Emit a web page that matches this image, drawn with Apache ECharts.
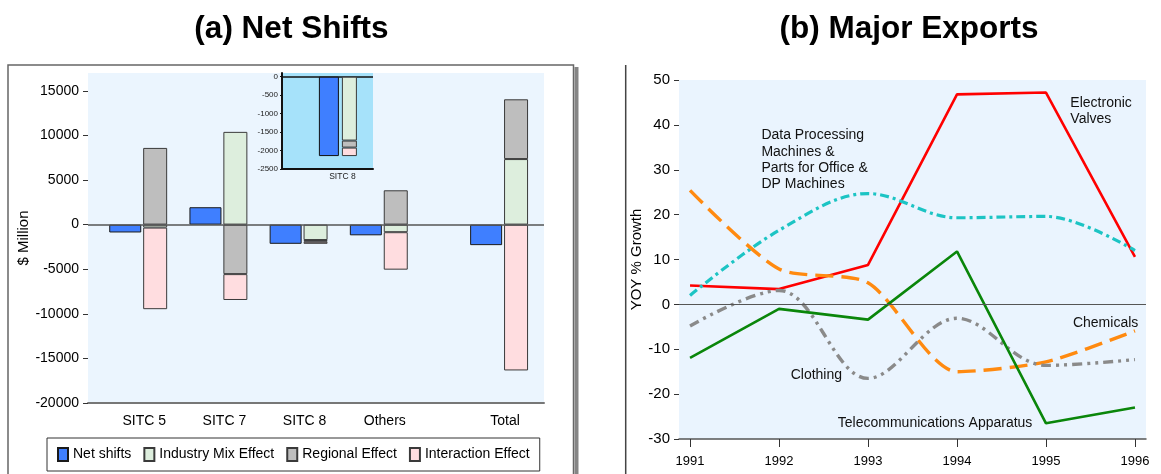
<!DOCTYPE html>
<html>
<head>
<meta charset="utf-8">
<script src="https://cdn.jsdelivr.net/npm/echarts@6/dist/echarts.min.js"></script>
<style>
  html, body { margin: 0; padding: 0; background: #fff; }
  #chart { width: 1161px; height: 474px; }
</style>
</head>
<body>
<div id="chart"></div>
<script>
// (a) Net shifts by commodity group, $ million
const categories = ['SITC 5', 'SITC 7', 'SITC 8', 'Others', 'Total'];
const netShifts = [-880, 1950, -2150, -1200, -2300];
const industryMix = [-330, 10400, -1730, -850, 7350];
const regional = [8600, -5550, -190, 3850, 6700];
const interaction = [-9150, -2900, -230, -4200, -16350];
const netTicks = [-20000, -15000, -10000, -5000, 0, 5000, 10000, 15000];

// close-up of one group
const insetCategory = 'SITC 8';
const insetTicks = [-2500, -2000, -1500, -1000, -500, 0];

// (b) Major exports, year-on-year % growth
const years = [1991, 1992, 1993, 1994, 1995, 1996];
const electronicValves = [4.2, 3.4, 8.8, 46.8, 47.2, 10.6];
const dataProcessing = [2.0, 16.5, 24.7, 19.3, 19.6, 12.0];
const chemicals = [25.4, 7.9, 4.8, -15.0, -12.8, -5.9];
const clothing = [-4.8, 3.1, -16.5, -3.1, -13.6, -12.3];
const telecom = [-11.9, -1.0, -3.4, 11.8, -26.5, -23.0];
const growthTicks = [-30, -20, -10, 0, 10, 20, 30, 40, 50];

const FONT = '"Liberation Sans", Arial, Helvetica, sans-serif';

// The bar axis uses half-slots: one empty slot between groups and
// two before the last group ("Total"), which stands further apart.
const lastIdx = categories.length - 1;
const bandOf = i => 2 * i + (i === lastIdx ? 1 : 0);
const bandCount = bandOf(lastIdx) + 1;
const axisBands = Array.from({ length: bandCount }, (_, k) => '#' + k);
categories.forEach((c, i) => { axisBands[bandOf(i)] = c; });
const spread = arr => {
  const out = Array(bandCount).fill('-');
  arr.forEach((v, i) => { out[bandOf(i)] = v; });
  return out;
};

const ii = categories.indexOf(insetCategory);
const pick = arr => [arr[ii]];

const yearPairs = arr => arr.map((v, i) => [years[i], v]);
const plain = v => String(v);

const zeroLine = (color, width) => ({
  silent: true,
  symbol: 'none',
  label: { show: false },
  lineStyle: { color: color, width: width, type: 'solid' },
  data: [{ yAxis: 0 }]
});

const note = (coord, text, align, vAlign, lineHeight) => ({
  coord: coord,
  symbol: 'circle',
  symbolSize: 0,
  label: {
    show: true,
    formatter: text,
    position: [0, 0],
    align: align,
    verticalAlign: vAlign,
    color: '#111',
    fontSize: 14,
    lineHeight: lineHeight || 16.3,
    fontFamily: FONT
  }
});

const effectBar = (name, data, color, xi, yi, stack, width, gap, z) => ({
  name: name,
  type: 'bar',
  xAxisIndex: xi,
  yAxisIndex: yi,
  stack: stack,
  barWidth: width,
  barGap: gap,
  clip: false,
  z: z,
  data: data,
  itemStyle: { color: color, borderColor: '#3a3a3a', borderWidth: 1 }
});

const hiddenY = (grid, min, max) => ({
  gridIndex: grid, type: 'value', min: min, max: max, show: false,
  axisLine: { onZero: false }, splitLine: { show: false }
});

const chart = echarts.init(document.getElementById('chart'), null, { renderer: 'canvas' });

chart.setOption({
  animation: false,
  textStyle: { fontFamily: FONT },
  title: [
    { text: '(a) Net Shifts', left: 291.5, top: 13, textAlign: 'center', padding: 0,
      textStyle: { fontSize: 31.5, fontWeight: 'bold', color: '#000', fontFamily: FONT } },
    { text: '(b) Major Exports', left: 909, top: 13, textAlign: 'center', padding: 0,
      textStyle: { fontSize: 31.5, fontWeight: 'bold', color: '#000', fontFamily: FONT } }
  ],
  legend: {
    data: ['Net shifts', 'Industry Mix Effect', 'Regional Effect', 'Interaction Effect'],
    left: 47,
    top: 438,
    padding: [9, 10, 9, 10],
    icon: 'rect',
    itemWidth: 10,
    itemHeight: 13,
    itemGap: 12,
    borderColor: '#333',
    borderWidth: 1,
    selectedMode: false,
    textStyle: { fontSize: 14, color: '#000', fontFamily: FONT }
  },
  graphic: [
    { type: 'rect', z: -1, shape: { x: 574.5, y: 67, width: 4, height: 420 }, style: { fill: '#858585' } },
    { type: 'rect', z: 0, shape: { x: 8, y: 65, width: 565.5, height: 420 },
      style: { fill: 'none', stroke: '#666', lineWidth: 1.5 } },
    { type: 'line', z: 0, shape: { x1: 625.7, y1: 65, x2: 625.7, y2: 480 },
      style: { stroke: '#444', lineWidth: 1.5 } }
  ],
  grid: [
    // 0: main plot frame (background, value scale, axes)
    { left: 88, top: 73, width: 456, height: 330, show: true, backgroundColor: '#ebf5fe', borderWidth: 0 },
    // 1: main bar layer
    { left: 118.15, top: 73, width: 401, height: 330, show: false },
    // 2: close-up frame
    { left: 282, top: 73, width: 91, height: 96, show: true, backgroundColor: '#a6e2fa', borderWidth: 0, z: 5 },
    // 3: close-up bar layer
    { left: 300.4, top: 73, width: 75, height: 96, show: false, z: 5 },
    // 4: growth lines
    { left: 679, top: 80, width: 467, height: 359, show: true, backgroundColor: '#eaf4fe', borderWidth: 0 }
  ],
  xAxis: [
    {
      gridIndex: 0, type: 'value', min: 0, max: 1,
      axisLine: { show: true, onZero: false, lineStyle: { color: '#777', width: 2 } },
      axisTick: { show: false }, axisLabel: { show: false }, splitLine: { show: false }
    },
    {
      gridIndex: 1, type: 'category', data: axisBands,
      axisLine: { show: false, onZero: false },
      axisTick: { show: false },
      splitLine: { show: false },
      axisLabel: {
        interval: 0,
        formatter: v => (v.charAt(0) === '#' ? '' : v),
        fontSize: 14, color: '#000', margin: 11, padding: [0, 0, 0, 12]
      }
    },
    {
      gridIndex: 2, type: 'value', min: 0, max: 1, z: 5,
      axisLine: { show: true, onZero: false, lineStyle: { color: '#111', width: 2 } },
      axisTick: { show: false }, axisLabel: { show: false }, splitLine: { show: false }
    },
    {
      gridIndex: 3, type: 'category', data: [insetCategory], z: 5,
      axisLine: { show: false, onZero: false },
      axisTick: { show: false },
      splitLine: { show: false },
      axisLabel: { fontSize: 8.5, color: '#222', margin: 3, padding: [0, 0, 0, 9] }
    },
    {
      gridIndex: 4, type: 'value', min: 1990.876, max: 1996.124,
      axisLine: { show: true, onZero: false, lineStyle: { color: '#555', width: 1.5 } },
      axisTick: { show: true, customValues: years, length: 8, lineStyle: { color: '#333', width: 1 } },
      splitLine: { show: false },
      axisLabel: { customValues: years, formatter: plain, fontSize: 13, color: '#000', margin: 16 }
    }
  ],
  yAxis: [
    {
      gridIndex: 0, type: 'value', min: -20000, max: 17000,
      axisLine: { show: false, onZero: false },
      axisTick: { show: true, customValues: netTicks, length: 5, lineStyle: { color: '#333' } },
      splitLine: { show: false },
      axisLabel: { customValues: netTicks, formatter: plain, fontSize: 14, color: '#000', margin: 9 },
      name: '$ Million', nameLocation: 'middle', nameGap: 46,
      nameTextStyle: { fontSize: 15, color: '#000' }
    },
    hiddenY(1, -20000, 17000),
    {
      gridIndex: 2, type: 'value', min: -2500, max: 100, z: 5,
      axisLine: { show: true, onZero: false, lineStyle: { color: '#111', width: 2 } },
      axisTick: { show: true, customValues: insetTicks, length: 2, lineStyle: { color: '#111' } },
      splitLine: { show: false },
      axisLabel: { customValues: insetTicks, formatter: plain, fontSize: 8, color: '#222', margin: 4 }
    },
    hiddenY(3, -2500, 100),
    {
      gridIndex: 4, type: 'value', min: -30, max: 50, interval: 10,
      axisLine: { show: false, onZero: false },
      axisTick: { show: true, length: 5, lineStyle: { color: '#333' } },
      splitLine: { show: false },
      axisLabel: { fontSize: 15, color: '#000', margin: 9 },
      name: 'YOY % Growth', nameLocation: 'middle', nameGap: 29,
      nameTextStyle: { fontSize: 15, color: '#000' }
    }
  ],
  series: [
    // zero reference lines across the full plot frames
    { type: 'line', xAxisIndex: 0, yAxisIndex: 0, data: [], markLine: zeroLine('#555', 1.5) },
    { type: 'line', xAxisIndex: 2, yAxisIndex: 2, z: 6, data: [], markLine: zeroLine('#111', 1.5) },

    // (a) main panel
    {
      name: 'Net shifts', type: 'bar', xAxisIndex: 1, yAxisIndex: 1,
      barWidth: 32, barGap: '6%', clip: false, data: spread(netShifts),
      itemStyle: { color: '#3f7fff', borderColor: '#1a1a1a', borderWidth: 1 }
    },
    effectBar('Industry Mix Effect', spread(industryMix), '#ddeedd', 1, 1, 'effects', 24, '6%', 2),
    effectBar('Regional Effect', spread(regional), '#bebebe', 1, 1, 'effects', 24, '6%', 2),
    effectBar('Interaction Effect', spread(interaction), '#ffdde0', 1, 1, 'effects', 24, '6%', 2),

    // (a) close-up panel
    {
      name: 'Net shifts', type: 'bar', xAxisIndex: 3, yAxisIndex: 3, z: 6,
      barWidth: 20, barGap: '15%', clip: false, data: pick(netShifts),
      itemStyle: { color: '#3f7fff', borderColor: '#111', borderWidth: 1 }
    },
    effectBar('Industry Mix Effect', pick(industryMix), '#ddeedd', 3, 3, 'insetEffects', 15, '15%', 6),
    effectBar('Regional Effect', pick(regional), '#bebebe', 3, 3, 'insetEffects', 15, '15%', 6),
    effectBar('Interaction Effect', pick(interaction), '#ffdde0', 3, 3, 'insetEffects', 15, '15%', 6),

    // (b) growth lines
    {
      name: 'Electronic Valves', type: 'line', xAxisIndex: 4, yAxisIndex: 4,
      data: yearPairs(electronicValves), symbol: 'none',
      lineStyle: { color: '#ff0000', width: 2.6 },
      markLine: zeroLine('#555', 1),
      markPoint: { data: [note([1995.274, 46.73], 'Electronic\nValves', 'left', 'top', 16)] }
    },
    {
      name: 'Data Processing Machines', type: 'line', xAxisIndex: 4, yAxisIndex: 4,
      data: yearPairs(dataProcessing), symbol: 'none', smooth: 0.35,
      lineStyle: { color: '#1cc4c4', width: 3.2, type: [9, 4, 3, 4] },
      markPoint: { data: [note([1991.802, 39.45], 'Data Processing\nMachines &\nParts for Office &\nDP Machines', 'left', 'top')] }
    },
    {
      name: 'Chemicals', type: 'line', xAxisIndex: 4, yAxisIndex: 4,
      data: yearPairs(chemicals), symbol: 'none', smooth: 0.25,
      lineStyle: { color: '#ff8a10', width: 3.4, type: [18, 8] },
      markPoint: { data: [note([1995.303, -4.2], 'Chemicals', 'left', 'middle')] }
    },
    {
      name: 'Clothing', type: 'line', xAxisIndex: 4, yAxisIndex: 4,
      data: yearPairs(clothing), symbol: 'none', smooth: 0.35,
      lineStyle: { color: '#8a8a8a', width: 3.4, type: [10, 5, 3, 5, 3, 5] },
      markPoint: { data: [note([1992.131, -15.72], 'Clothing', 'left', 'middle')] }
    },
    {
      name: 'Telecommunications Apparatus', type: 'line', xAxisIndex: 4, yAxisIndex: 4,
      data: yearPairs(telecom), symbol: 'none',
      lineStyle: { color: '#0a860a', width: 2.6 },
      markPoint: { data: [note([1994.847, -26.5], 'Telecommunications Apparatus', 'right', 'middle')] }
    }
  ]
});
</script>
</body>
</html>
